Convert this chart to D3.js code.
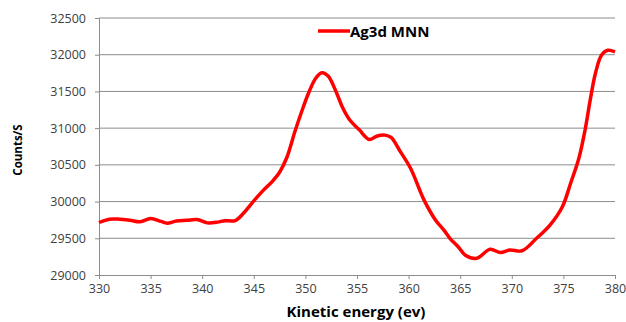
<!DOCTYPE html>
<html>
<head>
<meta charset="utf-8">
<script src="https://cdn.jsdelivr.net/npm/d3@7"></script>
<style>
  body { margin: 0; background: #fff; }
  text { font-family: "Open Sans", sans-serif; }
</style>
</head>
<body>
<div id="chart"></div>
<script>
// Ag3d MNN spectrum
const energy = [330, 331, 332, 333, 334, 335, 336, 336.6, 337.5, 338.5, 339.5, 340.5, 341.5, 342.2, 343.2,
  344, 344.8, 345.8, 346.8, 347.5, 348.2, 349, 349.7, 350.3, 351, 351.6, 352.2, 352.9, 353.6, 354.3, 355.2,
  356.2, 356.9, 357.7, 358.3, 359.2, 360.2, 361.5, 362.6, 363.4, 364, 364.8, 365.5, 366.6, 367.9, 368.9,
  369.8, 371, 372.4, 373.7, 374.9, 375.7, 376.5, 377.1, 377.6, 378.1, 378.7, 379.3, 380];
const counts = [29715, 29760, 29760, 29745, 29725, 29770, 29730, 29705, 29735, 29745, 29755, 29710, 29720, 29740, 29740,
  29840, 29975, 30135, 30275, 30400, 30600, 30960, 31250, 31475, 31680, 31755, 31710, 31520, 31280, 31110, 30980,
  30845, 30890, 30905, 30875, 30680, 30450, 30020, 29750, 29615, 29500, 29385, 29270, 29228, 29350, 29305,
  29340, 29330, 29500, 29680, 29930, 30250, 30590, 30975, 31385, 31745, 31995, 32060, 32040];
const xTicks = [330, 335, 340, 345, 350, 355, 360, 365, 370, 375, 380];
const yTicks = [29000, 29500, 30000, 30500, 31000, 31500, 32000, 32500];
const seriesName = "Ag3d MNN";

const width = 626, height = 322;
const margin = {top: 18, right: 11, bottom: 47, left: 99};

const svg = d3.select("#chart").append("svg")
  .attr("width", width)
  .attr("height", height);

const x = d3.scaleLinear().domain([330, 380]).range([margin.left, width - margin.right]);
const y = d3.scaleLinear().domain([29000, 32500]).range([height - margin.bottom, margin.top]);

// gridlines
svg.append("g")
  .selectAll("line")
  .data(yTicks.slice(1))
  .enter().append("line")
    .attr("x1", x(330)).attr("x2", x(380))
    .attr("y1", d => y(d)).attr("y2", d => y(d))
    .attr("stroke", "#8c8c8c")
    .attr("stroke-width", 1);

// y axis
const yAxis = svg.append("g")
  .attr("transform", `translate(${x(330)},0)`)
  .call(d3.axisLeft(y).tickValues(yTicks).tickSize(4).tickPadding(9).tickFormat(d3.format("d")));

// x axis
const xAxis = svg.append("g")
  .attr("transform", `translate(0,${y(29000)})`)
  .call(d3.axisBottom(x).tickValues(xTicks).tickSize(4).tickPadding(5).tickFormat(d3.format("d")));

[yAxis, xAxis].forEach(a => {
  a.select(".domain").attr("stroke", "#8c8c8c");
  a.selectAll(".tick line").attr("stroke", "#8c8c8c");
  a.selectAll(".tick text")
    .attr("fill", "#404040")
    .attr("font-size", "12.5px")
    .attr("font-family", "'Open Sans', sans-serif");
});

// the curve
const data = energy.map((e, i) => ({e, c: counts[i]}));
const line = d3.line()
  .x(d => x(d.e))
  .y(d => y(d.c))
  .curve(d3.curveCatmullRom.alpha(0.5));

svg.append("path")
  .datum(data)
  .attr("fill", "none")
  .attr("stroke", "#ff0000")
  .attr("stroke-width", 3.5)
  .attr("stroke-linejoin", "round")
  .attr("d", line);

// legend
svg.append("line")
  .attr("x1", 318).attr("x2", 350)
  .attr("y1", 31).attr("y2", 31)
  .attr("stroke", "#ff0000")
  .attr("stroke-width", 3.5);

svg.append("text")
  .attr("x", 350)
  .attr("y", 36.5)
  .attr("font-size", "15px")
  .attr("font-weight", "bold")
  .attr("fill", "#000")
  .text(seriesName);

// axis titles
svg.append("text")
  .attr("x", 356)
  .attr("y", 317)
  .attr("text-anchor", "middle")
  .attr("font-size", "15px")
  .attr("font-weight", "bold")
  .attr("fill", "#000")
  .text("Kinetic energy (ev)");

svg.append("text")
  .attr("transform", `translate(22,150) rotate(-90)`)
  .attr("text-anchor", "middle")
  .attr("font-size", "11.5px")
  .attr("font-weight", "bold")
  .attr("fill", "#000")
  .text("Counts/S");
</script>
</body>
</html>
